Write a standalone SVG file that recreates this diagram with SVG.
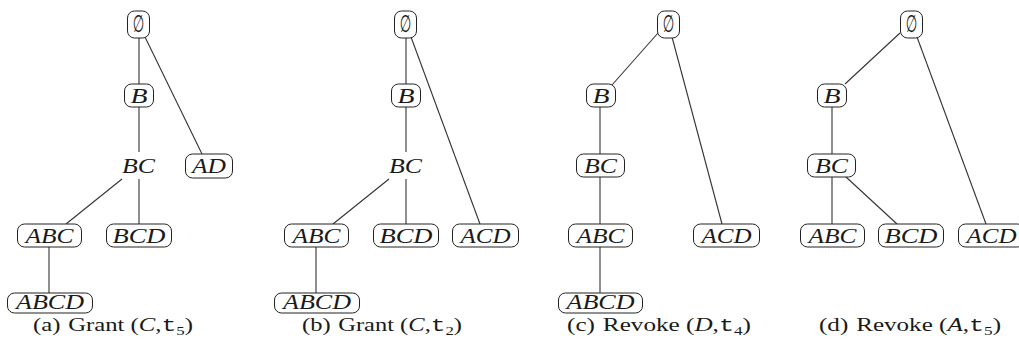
<svg xmlns="http://www.w3.org/2000/svg" width="1019" height="343" viewBox="0 0 1019 343">
<style>
.n rect{fill:#fff;stroke:#222;stroke-width:1}
.l{font-family:"Liberation Serif",serif;font-style:italic;font-size:22px;text-anchor:middle;fill:#1a1a1a}
.l4{font-size:20px}
.es{font-family:"DejaVu Sans",sans-serif;font-size:24px;text-anchor:middle;fill:#1a1a1a}
.e line{stroke:#333;stroke-width:1.1}
.cap{font-family:"Liberation Serif",serif;font-size:19px;text-anchor:middle;fill:#1a1a1a}
.it{font-style:italic}
.tt{font-family:"Liberation Mono",monospace}
.sub{font-size:13px}
</style>
<rect width="1019" height="343" fill="#fff"/>
<g id="connectors" class="e">
<line x1="139" y1="38" x2="139" y2="84"/>
<line x1="145" y1="37" x2="202" y2="154"/>
<line x1="139" y1="107" x2="139" y2="152"/>
<line x1="122" y1="179" x2="66" y2="224"/>
<line x1="139" y1="179" x2="139" y2="224"/>
<line x1="49" y1="247" x2="49" y2="293"/>
<line x1="406" y1="38" x2="406" y2="84"/>
<line x1="411" y1="37" x2="480" y2="224"/>
<line x1="406" y1="107" x2="406" y2="152"/>
<line x1="389" y1="179" x2="333" y2="224"/>
<line x1="406" y1="179" x2="406" y2="224"/>
<line x1="316" y1="247" x2="316" y2="293"/>
<line x1="658" y1="33" x2="612" y2="85"/>
<line x1="672" y1="37" x2="722" y2="224"/>
<line x1="600" y1="107" x2="600" y2="154"/>
<line x1="600" y1="177" x2="600" y2="224"/>
<line x1="600" y1="247" x2="600" y2="293"/>
<line x1="900" y1="33" x2="845" y2="84"/>
<line x1="917" y1="37" x2="986" y2="224"/>
<line x1="832" y1="107" x2="832" y2="154"/>
<line x1="832" y1="177" x2="832" y2="224"/>
<line x1="846" y1="177" x2="897" y2="224"/>
</g>
<!-- panel a -->
<g id="a-empty" class="n"><rect x="127.5" y="11" width="22" height="27" rx="7"/><text class="es" transform="translate(138.5,32) scale(0.55,1)">∅</text></g>
<g id="a-B" class="n"><rect x="124.5" y="84" width="29" height="23" rx="7"/><text class="l" x="139" y="103" textLength="17" lengthAdjust="spacingAndGlyphs">B</text></g>
<g id="a-BC" class="n"><text class="l" x="138.5" y="173" textLength="33" lengthAdjust="spacingAndGlyphs">BC</text></g>
<g id="a-AD" class="n"><rect x="185.5" y="154" width="47" height="24" rx="7"/><text class="l" x="209" y="173" textLength="34" lengthAdjust="spacingAndGlyphs">AD</text></g>
<g id="a-ABC" class="n"><rect x="17.5" y="224" width="64" height="23" rx="7"/><text class="l" x="49.5" y="243" textLength="48" lengthAdjust="spacingAndGlyphs">ABC</text></g>
<g id="a-BCD" class="n"><rect x="106.5" y="224" width="65" height="23" rx="7"/><text class="l" x="139" y="243" textLength="53" lengthAdjust="spacingAndGlyphs">BCD</text></g>
<g id="a-ABCD" class="n"><rect x="7.5" y="293" width="85" height="20" rx="7"/><text class="l l4" x="50" y="309" textLength="68" lengthAdjust="spacingAndGlyphs">ABCD</text></g>
<text id="cap-a" class="cap" x="113" y="331" textLength="160" lengthAdjust="spacingAndGlyphs">(a)<tspan dx="6">Grant (</tspan><tspan class="it">C</tspan>,<tspan class="tt">t</tspan><tspan class="sub" dy="4">5</tspan><tspan dy="-4">)</tspan></text>
<!-- panel b -->
<g id="b-empty" class="n"><rect x="394.5" y="11" width="22" height="27" rx="7"/><text class="es" transform="translate(405.5,32) scale(0.55,1)">∅</text></g>
<g id="b-B" class="n"><rect x="391.5" y="84" width="29" height="23" rx="7"/><text class="l" x="406" y="103" textLength="17" lengthAdjust="spacingAndGlyphs">B</text></g>
<g id="b-BC" class="n"><text class="l" x="405.5" y="173" textLength="33" lengthAdjust="spacingAndGlyphs">BC</text></g>
<g id="b-ABC" class="n"><rect x="284.5" y="224" width="64" height="23" rx="7"/><text class="l" x="316.5" y="243" textLength="48" lengthAdjust="spacingAndGlyphs">ABC</text></g>
<g id="b-BCD" class="n"><rect x="373.5" y="224" width="65" height="23" rx="7"/><text class="l" x="406" y="243" textLength="53" lengthAdjust="spacingAndGlyphs">BCD</text></g>
<g id="b-ACD" class="n"><rect x="452.5" y="224" width="66" height="23" rx="7"/><text class="l" x="485.5" y="243" textLength="50" lengthAdjust="spacingAndGlyphs">ACD</text></g>
<g id="b-ABCD" class="n"><rect x="274.5" y="293" width="85" height="20" rx="7"/><text class="l l4" x="317" y="309" textLength="68" lengthAdjust="spacingAndGlyphs">ABCD</text></g>
<text id="cap-b" class="cap" x="382" y="331" textLength="160" lengthAdjust="spacingAndGlyphs">(b)<tspan dx="6">Grant (</tspan><tspan class="it">C</tspan>,<tspan class="tt">t</tspan><tspan class="sub" dy="4">2</tspan><tspan dy="-4">)</tspan></text>
<!-- panel c -->
<g id="c-empty" class="n"><rect x="657.5" y="11" width="22" height="27" rx="7"/><text class="es" transform="translate(668.5,32) scale(0.55,1)">∅</text></g>
<g id="c-B" class="n"><rect x="586.5" y="84" width="29" height="23" rx="7"/><text class="l" x="601" y="103" textLength="17" lengthAdjust="spacingAndGlyphs">B</text></g>
<g id="c-BC" class="n"><rect x="576.5" y="154" width="48" height="23" rx="7"/><text class="l" x="600.5" y="173" textLength="33" lengthAdjust="spacingAndGlyphs">BC</text></g>
<g id="c-ABC" class="n"><rect x="568.5" y="224" width="64" height="23" rx="7"/><text class="l" x="600.5" y="243" textLength="48" lengthAdjust="spacingAndGlyphs">ABC</text></g>
<g id="c-ACD" class="n"><rect x="693.5" y="224" width="66" height="23" rx="7"/><text class="l" x="726.5" y="243" textLength="50" lengthAdjust="spacingAndGlyphs">ACD</text></g>
<g id="c-ABCD" class="n"><rect x="558.5" y="293" width="84" height="20" rx="7"/><text class="l l4" x="600.5" y="309" textLength="68" lengthAdjust="spacingAndGlyphs">ABCD</text></g>
<text id="cap-c" class="cap" x="659" y="331" textLength="184" lengthAdjust="spacingAndGlyphs">(c)<tspan dx="6">Revoke (</tspan><tspan class="it">D</tspan>,<tspan class="tt">t</tspan><tspan class="sub" dy="4">4</tspan><tspan dy="-4">)</tspan></text>
<!-- panel d -->
<g id="d-empty" class="n"><rect x="900.5" y="11" width="22" height="27" rx="7"/><text class="es" transform="translate(911.5,32) scale(0.55,1)">∅</text></g>
<g id="d-B" class="n"><rect x="817.5" y="84" width="29" height="23" rx="7"/><text class="l" x="832" y="103" textLength="17" lengthAdjust="spacingAndGlyphs">B</text></g>
<g id="d-BC" class="n"><rect x="807.5" y="154" width="48" height="23" rx="7"/><text class="l" x="831.5" y="173" textLength="33" lengthAdjust="spacingAndGlyphs">BC</text></g>
<g id="d-ABC" class="n"><rect x="800.5" y="224" width="64" height="23" rx="7"/><text class="l" x="832.5" y="243" textLength="48" lengthAdjust="spacingAndGlyphs">ABC</text></g>
<g id="d-BCD" class="n"><rect x="878.5" y="224" width="65" height="23" rx="7"/><text class="l" x="911" y="243" textLength="53" lengthAdjust="spacingAndGlyphs">BCD</text></g>
<g id="d-ACD" class="n"><rect x="958.5" y="224" width="66" height="23" rx="7"/><text class="l" x="991.5" y="243" textLength="50" lengthAdjust="spacingAndGlyphs">ACD</text></g>
<text id="cap-d" class="cap" x="910" y="331" textLength="182" lengthAdjust="spacingAndGlyphs">(d)<tspan dx="6">Revoke (</tspan><tspan class="it">A</tspan>,<tspan class="tt">t</tspan><tspan class="sub" dy="4">5</tspan><tspan dy="-4">)</tspan></text>
</svg>
